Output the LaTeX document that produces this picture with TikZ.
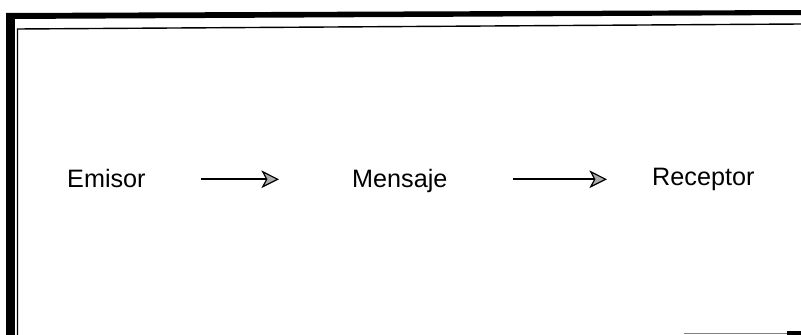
\documentclass[tikz,border=0pt]{standalone}
\usepackage{fontspec}
\setmainfont{Liberation Sans}
\usetikzlibrary{arrows.meta,positioning}
\tikzset{etiqueta/.style={font=\fontsize{21.5}{26}\selectfont,inner sep=0pt,anchor=base west,
    text height=0.72em,text depth=0pt},
  flecha/.style={line width=2pt,-{Stealth[length=15pt,width=15pt,inset=4pt,line width=1pt,fill=gray!65]}}}

\begin{document}
\begin{tikzpicture}[x=0.03cm,y=-0.03cm]
  \useasboundingbox (0,0) rectangle (801,335);
  % marco
  \fill (6,13) rectangle (15,335);
  \fill (6,13) -- (801,10) -- (801,15) -- (6,19) -- cycle;
  \draw[line width=1.2pt] (17.5,335) -- (17.5,29) -- (801,24);
  \draw[gray,line width=0.8pt] (684,333.5) -- (787,333.5);
  \fill (787,331) rectangle (801,335);

  \node[etiqueta] (emisor)   at (67,187)  {Emisor};
  \node[etiqueta] (mensaje)  at (352,187) {Mensaje};
  \node[etiqueta] (receptor) at (652,185) {Receptor};

  \draw[flecha,shorten <=1.65cm,shorten >=2.19cm] ([yshift=3pt]emisor.east) -- ([yshift=3pt]emisor.east -| mensaje.west);
  \draw[flecha,shorten <=1.95cm,shorten >=1.35cm] ([yshift=3pt]mensaje.east) -- ([yshift=3pt]mensaje.east -| receptor.west);
\end{tikzpicture}
\end{document}
